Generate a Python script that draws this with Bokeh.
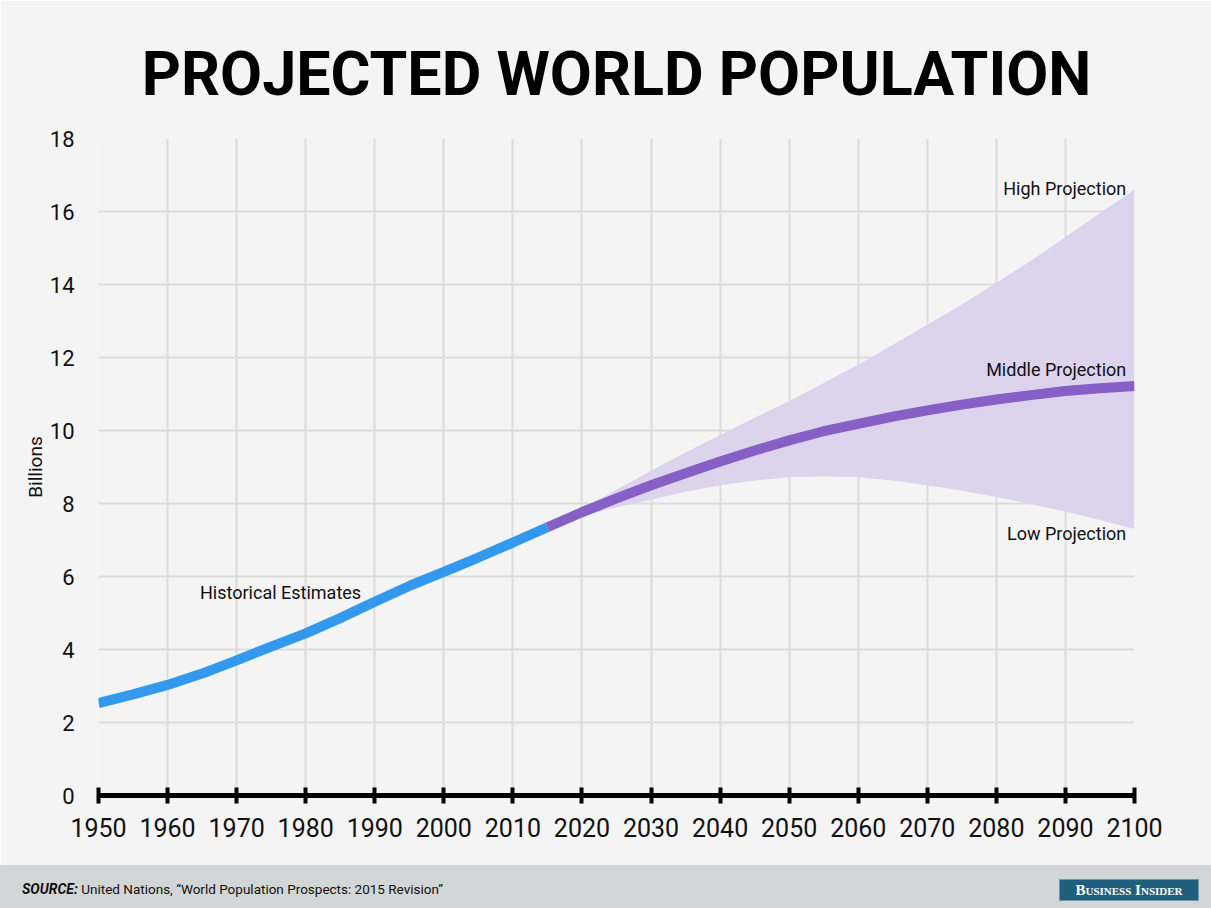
from bokeh.plotting import figure
from bokeh.models import Label, FixedTicker, Range1d, Div
from bokeh.layouts import column
from bokeh.embed import file_html
from bokeh.resources import INLINE

# ---- data (billions) ----
hist_years = [1950, 1955, 1960, 1965, 1970, 1975, 1980, 1985, 1990, 1995, 2000, 2005, 2010, 2015]
hist_pop = [2.53, 2.77, 3.03, 3.34, 3.70, 4.08, 4.44, 4.86, 5.31, 5.74, 6.13, 6.52, 6.93, 7.35]

proj_years = [2015, 2020, 2025, 2030, 2035, 2040, 2045, 2050, 2055, 2060, 2065, 2070, 2075, 2080, 2085, 2090, 2095, 2100]
middle_pop = [7.35, 7.76, 8.14, 8.50, 8.83, 9.15, 9.45, 9.73, 9.98, 10.18, 10.38, 10.55, 10.71, 10.85, 10.97, 11.08, 11.16, 11.22]
high_pop = [7.35, 7.85, 8.38, 8.90, 9.40, 9.88, 10.35, 10.80, 11.30, 11.80, 12.35, 12.90, 13.45, 14.05, 14.65, 15.30, 15.95, 16.60]
low_pop = [7.35, 7.65, 7.90, 8.10, 8.32, 8.50, 8.63, 8.72, 8.75, 8.72, 8.63, 8.50, 8.35, 8.18, 7.98, 7.78, 7.55, 7.30]

x_ticks = list(range(1950, 2101, 10))
y_ticks = list(range(0, 19, 2))

labels = [
    ("Historical Estimates", 1964.7, 5.55, "left"),
    ("High Projection", 2098.8, 16.64, "right"),
    ("Middle Projection", 2098.8, 11.68, "right"),
    ("Low Projection", 2098.8, 7.18, "right"),
]

BG = "#f4f4f4"
FONT = "Roboto"

p = figure(width=1211, height=865, output_backend="svg", toolbar_location=None,
           x_range=Range1d(1950, 2100), y_range=Range1d(0, 18),
           min_border_left=98, min_border_right=77, min_border_top=138, min_border_bottom=70)
p.background_fill_color = BG
p.border_fill_color = BG
p.outline_line_color = None

p.title.text = "PROJECTED WORLD POPULATION"
p.title.align = "center"
p.title.text_font = FONT
p.title.text_font_size = "61px"
p.title.text_font_style = "bold"
p.title.text_color = "#000000"
p.title.standoff = 57
p.title.offset = 0

# grid
p.xaxis.ticker = FixedTicker(ticks=x_ticks)
p.yaxis.ticker = FixedTicker(ticks=y_ticks)
p.xgrid.ticker = FixedTicker(ticks=x_ticks)
p.ygrid.ticker = FixedTicker(ticks=y_ticks)
for g in (p.xgrid, p.ygrid):
    g.grid_line_color = "#dcdcdc"
    g.grid_line_width = 2

# x axis
xa = p.xaxis[0]
xa.axis_line_width = 5
xa.axis_line_color = "#000000"
xa.major_tick_in = 8
xa.major_tick_out = 8
xa.major_tick_line_width = 4
xa.major_tick_line_color = "#000000"
xa.minor_tick_line_color = None
xa.major_label_text_font = FONT
xa.major_label_text_font_size = "25px"
xa.major_label_text_color = "#111111"
xa.major_label_standoff = 14

# y axis
ya = p.yaxis[0]
ya.axis_line_color = None
ya.major_tick_line_color = None
ya.minor_tick_line_color = None
ya.major_label_text_font = FONT
ya.major_label_text_font_size = "22px"
ya.major_label_text_color = "#111111"
ya.major_label_standoff = 18
ya.axis_label = "Billions"
ya.axis_label_text_font = FONT
ya.axis_label_text_font_size = "19px"
ya.axis_label_text_font_style = "normal"
ya.axis_label_text_color = "#111111"
ya.axis_label_standoff = 0

# band + lines
p.varea(x=proj_years, y1=low_pop, y2=high_pop, fill_color="#dcd3ec", fill_alpha=1.0)
p.line(hist_years, hist_pop, line_color="#3399ee", line_width=10)
p.line(proj_years, middle_pop, line_color="#8660c6", line_width=10)

for txt, lx, ly, al in labels:
    p.add_layout(Label(x=lx, y=ly, text=txt, text_align=al, text_baseline="middle",
                       text_font=FONT, text_font_size="18px", text_color="#111111"))

# footer
footer_html = (
    '<div style="position:relative;width:1211px;height:43px;background:#d3d6d6;'
    'font-family:Roboto;overflow:hidden;">'
    '<span style="position:absolute;left:22px;top:14px;font-size:14px;color:#111;white-space:nowrap;">'
    '<b><i>SOURCE:</i></b> <span style="font-size:13.5px;">United Nations, \u201cWorld Population Prospects: 2015 Revision\u201d</span></span>'
    '<div style="position:absolute;left:1059px;top:14px;width:140px;height:22px;box-sizing:border-box;'
    'background:#1f5f7e;border:1px solid #6f97ab;color:#fff;font-family:\'Liberation Serif\';font-weight:bold;'
    'font-variant:small-caps;font-size:15px;text-align:center;line-height:20px;white-space:nowrap;overflow:hidden;">'
    'Business Insider</div>'
    '</div>'
)
f = Div(text=footer_html, width=1211, height=43, margin=0)

layout = column(p, f, spacing=0)
open("out.html", "w").write(file_html(layout, INLINE))
